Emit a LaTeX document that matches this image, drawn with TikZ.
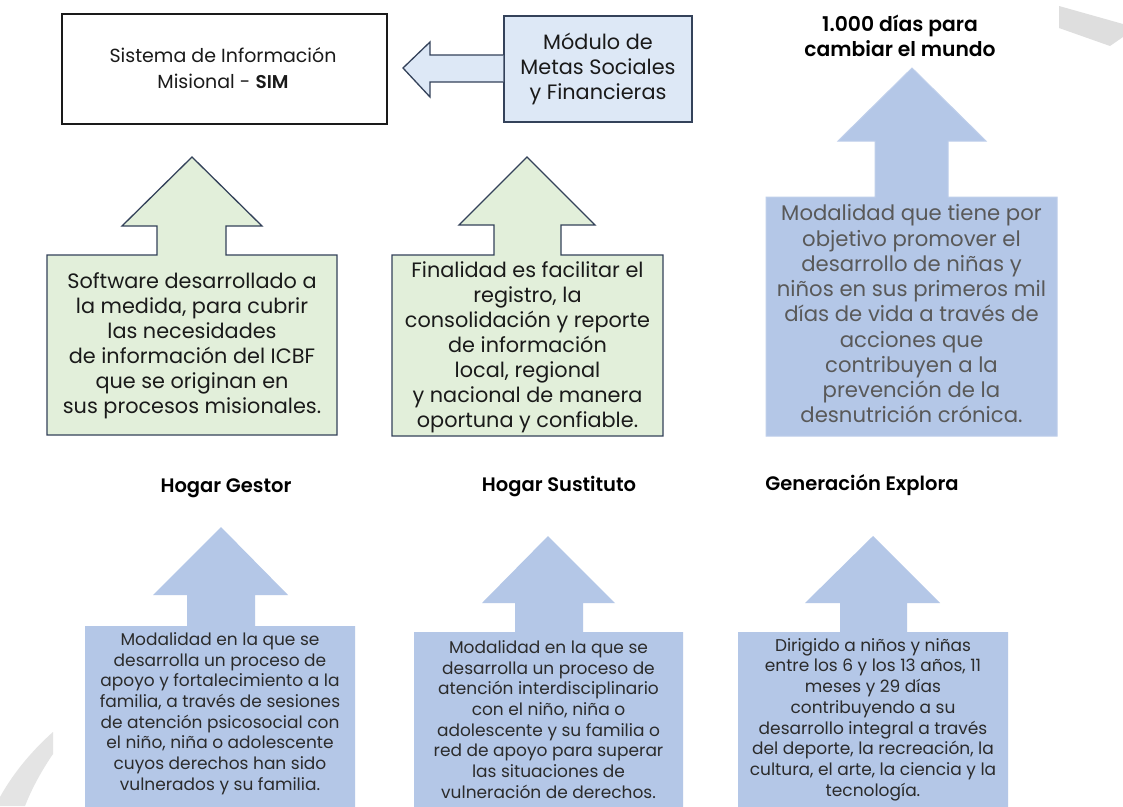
\documentclass[tikz,border=0pt]{standalone}
\usepackage{fontspec}
\setmainfont{Poppins}
\newfontfamily\semib{Poppins SemiBold}
\definecolor{txtdark}{HTML}{1A1A1A}
\definecolor{txtgray}{HTML}{595959}
\definecolor{txtbot}{HTML}{2B2B2B}
\definecolor{greenfill}{HTML}{E2EFDA}
\definecolor{bluefill}{HTML}{B4C7E7}
\definecolor{modfill}{HTML}{DDE8F6}
\definecolor{edgedark}{HTML}{34425A}
\definecolor{bgband}{HTML}{DEDEDE}
\tikzset{
  greenshape/.style={fill=greenfill,draw=edgedark,line width=1.3pt,line join=miter},
  blueshape/.style={fill=bluefill,draw=bluefill!85!white,line width=1pt},
  modshape/.style={fill=modfill,draw=edgedark,line width=1.3pt,line join=miter},
  toptext/.style={align=center,text=txtdark,font=\fontsize{20.8}{25}\selectfont,inner sep=0pt},
  simtext/.style={align=center,text=txtdark,font=\fontsize{19}{26}\selectfont,inner sep=0pt},
  graytext/.style={align=center,text=txtgray,font=\fontsize{21.2}{25.25}\selectfont,inner sep=0pt},
  bottext/.style={align=center,text=txtbot,font=\fontsize{17}{20.7}\selectfont,inner sep=0pt},
  titletext/.style={align=center,text=black,font=\fontsize{19.5}{25}\selectfont\semib,inner sep=0pt},
}
\begin{document}
\begin{tikzpicture}[x=1pt,y=-1pt]
\useasboundingbox (0,0) rectangle (1123,806);
\clip (0,0) rectangle (1123,806);
\fill[white] (0,0) rectangle (1123,806);
% background decorations
\fill[bgband] (1059,6) -- (1123,24) -- (1123,37) -- (1110,46) -- (1059,28) -- cycle;
\fill[bgband!80!white] (0,797) .. controls (15,770) and (35,748) .. (53,732) -- (53,754) .. controls (42,770) and (32,788) .. (25,806) -- (0,806) -- cycle;

% SIM box
\node[draw=txtdark,line width=1.2pt,fill=white,minimum width=325pt,minimum height=110pt,inner sep=0pt] (sim) at (224.5,69) {};
\node[simtext] (simtxt) at (223,68) {Sistema de Información\\Misional - {\semib\fontsize{18.5}{26}\selectfont SIM}};

% Modulo box
\node[modshape,minimum width=188pt,minimum height=106pt,inner sep=0pt] (mod) at (598,69) {};
\node[toptext] (modtxt) at (598,68.5) {Módulo de\\Metas Sociales\\y Financieras};
% left block arrow from mod to sim
\coordinate (ltip) at (403,68);
\draw[modshape] (mod.west |- 0,55) -- (430,55) -- (430,42) -- (ltip) -- (430,97) -- (430,82) -- (mod.west |- 0,82);

% green callout 1
\draw[greenshape] (47,255) -- (157,255) -- (157,226) -- (122,226) -- (192,157) -- (262,226) -- (226,226) -- (226,255) -- (337,255) -- (337,435) -- (47,435) -- cycle;
\node[toptext] (g1) at (192,346) {Software desarrollado a\\la medida, para cubrir\\las necesidades\\de información del ICBF\\que se originan en\\sus procesos misionales.};

% green callout 2
\draw[greenshape] (392,255) -- (494,255) -- (494,225) -- (459,225) -- (527,157) -- (595,225) -- (561,225) -- (561,255) -- (663,255) -- (663,436) -- (392,436) -- cycle;
\node[toptext] (g2) at (527.5,347) {Finalidad es facilitar el\\registro, la\\consolidación y reporte\\de información\\local, regional\\y nacional de manera\\oportuna y confiable.};

% 1000 dias
\node[titletext,font=\fontsize{20.3}{25}\selectfont\semib] (t3) at (900,35.5) {1.000 días para\\cambiar el mundo};
\draw[blueshape] (766,197) -- (875,197) -- (875,141) -- (838,141) -- (912,68) -- (986,141) -- (948,141) -- (948,197) -- (1057,197) -- (1057,436) -- (766,436) -- cycle;
\node[graytext] (b3) at (911.5,314) {Modalidad que tiene por\\objetivo promover el\\desarrollo de niñas y\\niños en sus primeros mil\\días de vida a través de\\acciones que\\contribuyen a la\\prevención de la\\desnutrición crónica.};

% Hogar Gestor
\node[titletext] (t4) at (226,488) {Hogar Gestor};
\fill[bluefill] (85,626) -- (187,626) -- (187,595) -- (153,595) -- (221,527) -- (288,595) -- (255,595) -- (255,626) -- (355,626) -- (355,810) -- (85,810) -- cycle;
\node[bottext] (b4) at (220,713.5) {Modalidad en la que se\\desarrolla un proceso de\\apoyo y fortalecimiento a la\\familia, a través de sesiones\\de atención psicosocial con\\el niño, niña o adolescente\\cuyos derechos han sido\\vulnerados y su familia.};

% Hogar Sustituto
\node[titletext] (t5) at (559,487) {Hogar Sustituto};
\fill[bluefill] (414,632) -- (515,632) -- (515,603) -- (482,603) -- (548,536) -- (615,603) -- (583,603) -- (583,632) -- (683,632) -- (683,810) -- (414,810) -- cycle;
\node[bottext] (b5) at (548.5,719.5) {Modalidad en la que se\\desarrolla un proceso de\\atención interdisciplinario\\con el niño, niña o\\adolescente y su familia o\\red de apoyo para superar\\las situaciones de\\vulneración de derechos.};

% Generacion Explora
\node[titletext] (t6) at (862,485) {Generación Explora};
\fill[bluefill] (738,632) -- (840,632) -- (840,603) -- (805,603) -- (873,536) -- (940,603) -- (907,603) -- (907,632) -- (1008,632) -- (1008,810) -- (738,810) -- cycle;
\node[bottext] (b6) at (873,719.5) {Dirigido a niños y niñas\\entre los 6 y los 13 años, 11\\meses y 29 días\\contribuyendo a su\\desarrollo integral a través\\del deporte, la recreación, la\\cultura, el arte, la ciencia y la\\tecnología.};
\end{tikzpicture}
\end{document}
